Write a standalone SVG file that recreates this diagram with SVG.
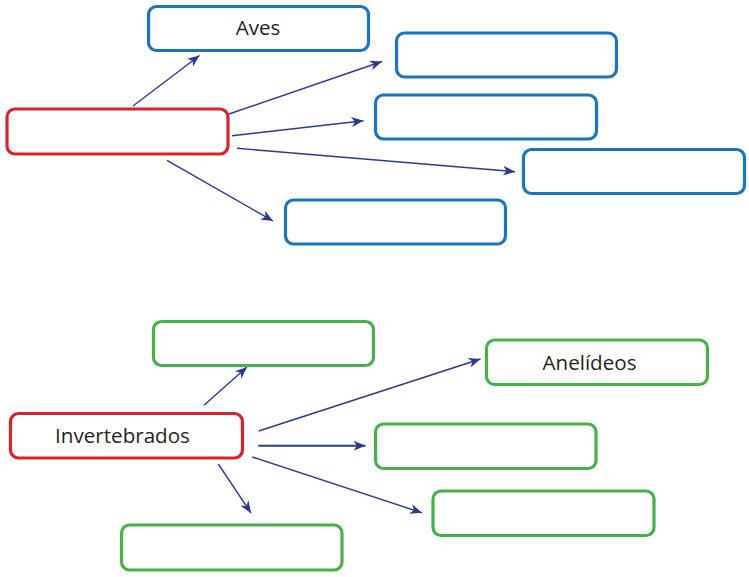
<svg xmlns="http://www.w3.org/2000/svg" width="749" height="577" viewBox="0 0 749 577">
<style>
.box{fill:#fff;stroke-width:3.2}
.blue{stroke:#1b75bc}
.red{stroke:#d6232d}
.green{stroke:#46b04a}
.lbl{font-family:"Open Sans","Liberation Sans",sans-serif;font-size:20.6px;fill:#231f20;text-anchor:middle}
.arr{stroke:#2b3990;stroke-width:1.4;fill:none;marker-end:url(#ah)}
</style>
<defs>
<marker id="ah" markerUnits="userSpaceOnUse" markerWidth="13" markerHeight="10" refX="12" refY="5" orient="auto" viewBox="0 0 13 10">
<path d="M0,0 L12,5 L0,10 L3.5,5 z" fill="#2b3990"/>
</marker>
</defs>
<rect width="749" height="577" fill="#fff"/>
<g id="connectors">
<line class="arr" x1="133" y1="106" x2="199.5" y2="55.5"/>
<line class="arr" x1="229" y1="114" x2="382" y2="61.5"/>
<line class="arr" x1="232" y1="135.7" x2="363.5" y2="120.7"/>
<line class="arr" x1="237" y1="148.3" x2="515" y2="171.7"/>
<line class="arr" x1="167" y1="160.3" x2="273" y2="221"/>
<line class="arr" x1="204" y1="405.3" x2="247" y2="367"/>
<line class="arr" x1="258.7" y1="431" x2="480.5" y2="359"/>
<line class="arr" x1="258.3" y1="445.7" x2="365.5" y2="445.7" style="stroke-width:2"/>
<line class="arr" x1="252.3" y1="457" x2="422" y2="512.8"/>
<line class="arr" x1="218.3" y1="464" x2="251" y2="513"/>
</g>
<g id="aves"><rect class="box blue" x="148.5" y="6.5" width="220" height="44" rx="8"/><text class="lbl" x="258" y="35">Aves</text></g>
<g id="vertebrados"><rect class="box red" x="7" y="109" width="221" height="45" rx="8"/></g>
<g id="top2"><rect class="box blue" x="396.5" y="33" width="220" height="44" rx="8"/></g>
<g id="top3"><rect class="box blue" x="375.5" y="95" width="221" height="44" rx="8"/></g>
<g id="top4"><rect class="box blue" x="523.5" y="149.5" width="221" height="44" rx="8"/></g>
<g id="top5"><rect class="box blue" x="285.5" y="200" width="220" height="44" rx="8"/></g>
<g id="bot1"><rect class="box green" x="153.5" y="321.5" width="220" height="44" rx="8"/></g>
<g id="invertebrados"><rect class="box red" x="10.5" y="413.5" width="232" height="44.5" rx="8"/><text class="lbl" x="122.5" y="443">Invertebrados</text></g>
<g id="anelideos"><rect class="box green" x="486.5" y="340" width="221" height="44.5" rx="8"/><text class="lbl" x="589.5" y="370">Anelídeos</text></g>
<g id="bot3"><rect class="box green" x="375.5" y="424" width="220.5" height="44.5" rx="8"/></g>
<g id="bot4"><rect class="box green" x="433" y="491" width="221" height="44.5" rx="8"/></g>
<g id="bot5"><rect class="box green" x="121.5" y="525" width="220.5" height="45" rx="8"/></g>
</svg>
